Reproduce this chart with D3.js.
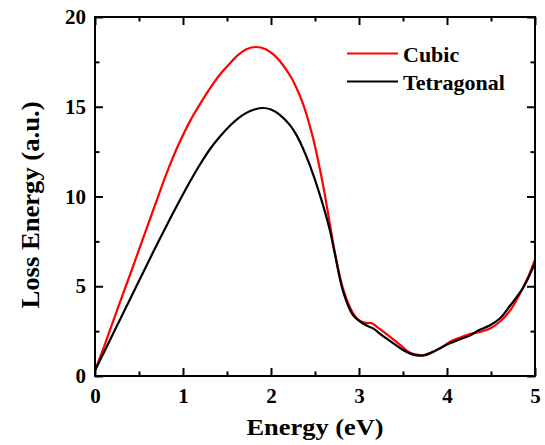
<!DOCTYPE html>
<html>
<head>
<meta charset="utf-8">
<script src="https://cdn.jsdelivr.net/npm/d3@7"></script>
<style>
  html, body { margin: 0; padding: 0; background: #fff; }
  svg { display: block; }
  text { font-family: "Times New Roman", "Liberation Serif", serif; font-weight: bold; fill: #000; }
</style>
</head>
<body>
<svg id="chart" width="545" height="445"></svg>
<script>
// ---- data ----
const seriesNames = ["Cubic", "Tetragonal"];
const seriesColors = ["#ff0000", "#000000"];

const energyCubic = [0.0,0.05,0.1,0.17,0.25,0.35,0.45,0.53,0.64,0.71,0.78,0.85,0.95,1.08,1.2,1.31,1.42,1.53,1.63,1.72,1.83,1.94,2.03,2.1,2.22,2.29,2.37,2.48,2.59,2.67,2.72,2.82,2.92,2.97,3.02,3.09,3.14,3.2,3.35,3.47,3.58,3.69,3.77,3.88,3.96,4.03,4.15,4.26,4.37,4.49,4.6,4.72,4.83,4.92,5.0];
const lossCubic   = [0.3,0.95,1.6,2.55,3.65,5.0,6.35,7.45,8.95,9.9,10.85,11.75,12.9,14.2,15.2,16.05,16.8,17.4,17.9,18.2,18.33,18.2,17.9,17.55,16.71,16.04,15.08,13.21,10.68,8.44,7.04,4.84,3.6,3.25,3.05,2.95,2.95,2.75,2.2,1.72,1.3,1.17,1.17,1.44,1.65,1.9,2.15,2.33,2.45,2.65,3.02,3.67,4.6,5.5,6.5];

const energyTetragonal = [0.0,0.1,0.23,0.35,0.47,0.6,0.74,0.85,0.985,1.08,1.2,1.31,1.42,1.53,1.62,1.72,1.82,1.91,2.0,2.1,2.22,2.29,2.36,2.44,2.56,2.67,2.72,2.82,2.93,3.05,3.16,3.24,3.31,3.39,3.5,3.62,3.73,3.84,3.92,4.0,4.15,4.26,4.34,4.49,4.6,4.72,4.87,5.0];
const lossTetragonal   = [0.3,1.3,2.6,3.8,5.0,6.3,7.67,8.73,9.99,10.84,11.84,12.66,13.34,13.93,14.33,14.66,14.86,14.93,14.85,14.55,13.95,13.42,12.72,11.76,10.02,8.1,6.94,4.7,3.4,2.9,2.65,2.35,2.1,1.82,1.45,1.18,1.15,1.35,1.55,1.75,2.05,2.25,2.5,2.83,3.2,3.94,4.96,6.3];

const xMajorTicks = [0, 1, 2, 3, 4, 5];
const xMinorTicks = [0.5, 1.5, 2.5, 3.5, 4.5];
const yMajorTicks = [0, 5, 10, 15, 20];
const yMinorTicks = [2.5, 7.5, 12.5, 17.5];
const xTitle = "Energy (eV)";
const yTitle = "Loss Energy (a.u.)";

// ---- layout ----
const svg = d3.select("#chart");
const L = 95, R = 535, T = 17, B = 376;
const x = d3.scaleLinear().domain([0, 5]).range([L, R]);
const y = d3.scaleLinear().domain([0, 20]).range([B, T]);

const majorLen = 8, minorLen = 4.5;

function styleAxis(g) {
  g.select(".domain").remove();
  g.selectAll(".tick line").attr("stroke", "#000").attr("stroke-width", 2);
  g.selectAll(".tick text").style("font-size", "21px").attr("fill", "#000");
}

// bottom
svg.append("g").attr("transform", `translate(0,${B})`)
  .call(d3.axisBottom(x).tickValues(xMajorTicks).tickFormat(d3.format("d")).tickSize(-majorLen).tickSizeOuter(0).tickPadding(12))
  .call(styleAxis);
svg.append("g").attr("transform", `translate(0,${B})`)
  .call(d3.axisBottom(x).tickValues(xMinorTicks).tickFormat("").tickSize(-minorLen).tickSizeOuter(0))
  .call(styleAxis);
// top
svg.append("g").attr("transform", `translate(0,${T})`)
  .call(d3.axisTop(x).tickValues(xMajorTicks).tickFormat("").tickSize(-majorLen).tickSizeOuter(0))
  .call(styleAxis);
svg.append("g").attr("transform", `translate(0,${T})`)
  .call(d3.axisTop(x).tickValues(xMinorTicks).tickFormat("").tickSize(-minorLen).tickSizeOuter(0))
  .call(styleAxis);
// left
svg.append("g").attr("transform", `translate(${L},0)`)
  .call(d3.axisLeft(y).tickValues(yMajorTicks).tickFormat(d3.format("d")).tickSize(-majorLen).tickSizeOuter(0).tickPadding(9))
  .call(styleAxis);
svg.append("g").attr("transform", `translate(${L},0)`)
  .call(d3.axisLeft(y).tickValues(yMinorTicks).tickFormat("").tickSize(-minorLen).tickSizeOuter(0))
  .call(styleAxis);
// right
svg.append("g").attr("transform", `translate(${R},0)`)
  .call(d3.axisRight(y).tickValues(yMajorTicks).tickFormat("").tickSize(-majorLen).tickSizeOuter(0))
  .call(styleAxis);
svg.append("g").attr("transform", `translate(${R},0)`)
  .call(d3.axisRight(y).tickValues(yMinorTicks).tickFormat("").tickSize(-minorLen).tickSizeOuter(0))
  .call(styleAxis);

// clip
svg.append("clipPath").attr("id", "clip")
  .append("rect").attr("x", L).attr("y", T).attr("width", R - L).attr("height", B - T);

const line = d3.line().x(d => x(d[0])).y(d => y(d[1])).curve(d3.curveCatmullRom.alpha(0.5));

const series = [
  { name: seriesNames[0], color: seriesColors[0], data: d3.zip(energyCubic, lossCubic) },
  { name: seriesNames[1], color: seriesColors[1], data: d3.zip(energyTetragonal, lossTetragonal) }
];

svg.append("g").attr("clip-path", "url(#clip)")
  .selectAll("path").data(series).join("path")
  .attr("d", d => line(d.data))
  .attr("fill", "none")
  .attr("stroke", d => d.color)
  .attr("stroke-width", 2.2)
  .attr("stroke-linejoin", "round");

// frame
svg.append("rect").attr("x", L).attr("y", T).attr("width", R - L).attr("height", B - T)
  .attr("fill", "none").attr("stroke", "#000").attr("stroke-width", 2);

// titles
svg.append("text").attr("x", (L + R) / 2).attr("y", 435)
  .attr("text-anchor", "middle").style("font-size", "23px")
  .attr("textLength", 137).attr("lengthAdjust", "spacingAndGlyphs")
  .text(xTitle);

svg.append("text").attr("transform", `translate(39,205) rotate(-90)`)
  .attr("text-anchor", "middle").style("font-size", "25px")
  .attr("textLength", 207).attr("lengthAdjust", "spacingAndGlyphs")
  .text(yTitle);

// legend
const legend = svg.append("g");
const legY = [53.5, 81.5];
series.forEach((s, i) => {
  legend.append("line").attr("x1", 347).attr("x2", 398).attr("y1", legY[i]).attr("y2", legY[i])
    .attr("stroke", s.color).attr("stroke-width", 2.2);
  legend.append("text").attr("x", 403).attr("y", legY[i] + 8).style("font-size", "22px").text(s.name);
});
</script>
</body>
</html>
